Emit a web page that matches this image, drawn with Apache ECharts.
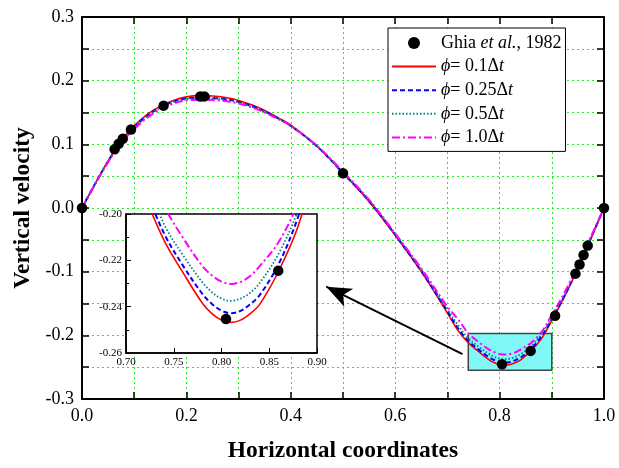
<!DOCTYPE html>
<html>
<head>
<meta charset="utf-8">
<script src="https://cdn.jsdelivr.net/npm/echarts@6/dist/echarts.min.js"></script>
<style>html,body{margin:0;padding:0;background:#fff;}#c{width:619px;height:468px;}</style>
</head>
<body>
<div id="c"></div>
<script>
// ---- data ----
const xs = [0, 0.025, 0.05, 0.075, 0.1, 0.125, 0.15, 0.175, 0.2, 0.225, 0.25, 0.275, 0.3, 0.325, 0.35, 0.375, 0.4, 0.45, 0.5, 0.55, 0.6, 0.65, 0.7, 0.72, 0.74, 0.76, 0.78, 0.79, 0.8, 0.81, 0.82, 0.83, 0.84, 0.86, 0.88, 0.9, 0.925, 0.95, 0.975, 1.0];
const phi01 = [0, 0.038, 0.074, 0.106, 0.129, 0.147, 0.160, 0.169, 0.1745, 0.1765, 0.176, 0.1735, 0.169, 0.162, 0.153, 0.142, 0.130, 0.097, 0.055, 0.010, -0.043, -0.100, -0.165, -0.192, -0.2115, -0.2255, -0.2385, -0.243, -0.2458, -0.2468, -0.2458, -0.243, -0.239, -0.2245, -0.2055, -0.177, -0.138, -0.095, -0.048, 0];
const phi025 = [0, 0.038, 0.073, 0.105, 0.127, 0.145, 0.158, 0.167, 0.172, 0.1735, 0.173, 0.171, 0.167, 0.160, 0.152, 0.141, 0.129, 0.097, 0.055, 0.011, -0.042, -0.099, -0.162, -0.1885, -0.2085, -0.2225, -0.2345, -0.2388, -0.2417, -0.2428, -0.2418, -0.239, -0.235, -0.2215, -0.2015, -0.1745, -0.137, -0.094, -0.047, 0];
const phi05 = [0, 0.038, 0.073, 0.104, 0.126, 0.144, 0.157, 0.166, 0.171, 0.1725, 0.172, 0.170, 0.166, 0.159, 0.151, 0.141, 0.129, 0.097, 0.056, 0.012, -0.041, -0.097, -0.159, -0.1835, -0.2045, -0.218, -0.2295, -0.2338, -0.2365, -0.2375, -0.2365, -0.234, -0.2298, -0.217, -0.1985, -0.172, -0.136, -0.093, -0.047, 0];
const phi10 = [0, 0.037, 0.072, 0.103, 0.124, 0.142, 0.155, 0.164, 0.169, 0.170, 0.1695, 0.168, 0.164, 0.158, 0.150, 0.140, 0.129, 0.098, 0.057, 0.013, -0.040, -0.095, -0.155, -0.1745, -0.1965, -0.2105, -0.2225, -0.2265, -0.2292, -0.2302, -0.2293, -0.2268, -0.2225, -0.212, -0.195, -0.168, -0.132, -0.090, -0.045, 0];
const ghiaX = [1.0, 0.9688, 0.9609, 0.9531, 0.9453, 0.9063, 0.8594, 0.8047, 0.5, 0.2344, 0.2266, 0.1563, 0.0938, 0.0781, 0.0703, 0.0625, 0.0];
const ghiaV = [0.0, -0.05906, -0.07391, -0.08864, -0.10313, -0.16914, -0.22445, -0.24533, 0.05454, 0.17527, 0.17507, 0.16077, 0.12317, 0.10890, 0.10091, 0.09233, 0.0];
const seriesNames = ['Ghia et al., 1982', 'phi = 0.1dt', 'phi = 0.25dt', 'phi = 0.5dt', 'phi = 1.0dt'];
const legendLabels = ['Ghia {i|et al.}, 1982', '{i|ϕ}= 0.1Δ{i|t}', '{i|ϕ}= 0.25Δ{i|t}', '{i|ϕ}= 0.5Δ{i|t}', '{i|ϕ}= 1.0Δ{i|t}'];
const zoomBox = [[0.74, -0.197], [0.90, -0.255]];
const arrowFrom = [0.729, -0.2295];
const arrowTo = [0.468, -0.1235];

// ---- build ----
const zip = (a, b) => a.map((v, i) => [v, b[i]]);
const ghia = zip(ghiaX, ghiaV);
const curves = [phi01, phi025, phi05, phi10].map(v => zip(xs, v));
const styles = [
  {color: '#ff0000', width: 1.6, type: 'solid'},
  {color: '#0000ff', width: 2, type: [5, 3]},
  {color: '#008080', width: 1.8, type: [1.5, 2]},
  {color: '#ff00ff', width: 2, type: [8, 3, 2, 3]}
];
const FONT = 'Liberation Serif';
const green = '#22ee22';
const legendMap = {};
seriesNames.forEach((n, i) => legendMap[n] = legendLabels[i]);

const series = [];
function addSet(xi, yi, main) {
  curves.forEach((d, k) => {
    const s = {
      name: seriesNames[k + 1], type: 'line', xAxisIndex: xi, yAxisIndex: yi,
      data: d, showSymbol: false, symbol: 'none', smooth: 0.35, clip: true,
      lineStyle: styles[k], itemStyle: {color: styles[k].color}, z: main ? 3 : 5
    };
    if (main && k === 0) {
      s.markArea = {
        silent: true,
        itemStyle: {color: '#80f8f8', borderColor: '#444', borderWidth: 1.5},
        data: [[{coord: zoomBox[0]}, {coord: zoomBox[1]}]]
      };
      s.markLine = {
        silent: true, label: {show: false},
        lineStyle: {color: '#000', width: 2, type: 'solid'},
        symbol: ['none', 'arrow'], symbolSize: [15, 25],
        data: [[{coord: arrowFrom}, {coord: arrowTo}]]
      };
    }
    series.push(s);
  });
  series.push({
    name: seriesNames[0], type: 'scatter', xAxisIndex: xi, yAxisIndex: yi,
    data: ghia, symbol: 'circle', symbolSize: 10.5, clip: true,
    itemStyle: {color: '#000', opacity: 1}, z: main ? 6 : 7
  });
}
addSet(0, 0, true);
addSet(2, 2, false);

const tickStyle = {color: '#000', width: 1.5};
const gridLine = {show: true, lineStyle: {color: green, type: [2, 3], width: 1}};
const mainX = {
  type: 'value', gridIndex: 0, min: 0, max: 1, interval: 0.2, position: 'bottom',
  axisLine: {onZero: false, lineStyle: {color: '#000', width: 2}},
  axisTick: {inside: true, length: 7, lineStyle: tickStyle},
  minorTick: {show: true, splitNumber: 2, length: 7, lineStyle: tickStyle},
  axisLabel: {color: '#000', fontFamily: FONT, fontSize: 18, margin: 8, formatter: v => v.toFixed(1)},
  splitLine: gridLine, minorSplitLine: gridLine,
  name: 'Horizontal coordinates', nameLocation: 'middle', nameGap: 40,
  nameTextStyle: {color: '#000', fontFamily: FONT, fontSize: 23.5, fontWeight: 'bold'}
};
const mainY = {
  type: 'value', gridIndex: 0, min: -0.3, max: 0.3, interval: 0.1, position: 'left',
  axisLine: {onZero: false, lineStyle: {color: '#000', width: 2}},
  axisTick: {inside: true, length: 7, lineStyle: tickStyle},
  minorTick: {show: true, splitNumber: 2, length: 7, lineStyle: tickStyle},
  axisLabel: {color: '#000', fontFamily: FONT, fontSize: 18, margin: 8, formatter: v => v.toFixed(1)},
  splitLine: gridLine, minorSplitLine: gridLine,
  name: 'Vertical velocity', nameLocation: 'middle', nameGap: 47,
  nameTextStyle: {color: '#000', fontFamily: FONT, fontSize: 23.5, fontWeight: 'bold'}
};
const frameX = {
  type: 'value', gridIndex: 0, min: 0, max: 1, interval: 0.2, position: 'top',
  axisLine: {onZero: false, lineStyle: {color: '#000', width: 2}},
  axisTick: {inside: true, length: 7, lineStyle: tickStyle},
  minorTick: {show: true, splitNumber: 2, length: 7, lineStyle: tickStyle},
  axisLabel: {show: false}, splitLine: {show: false}
};
const frameY = {
  type: 'value', gridIndex: 0, min: -0.3, max: 0.3, interval: 0.1, position: 'right',
  axisLine: {onZero: false, lineStyle: {color: '#000', width: 2}},
  axisTick: {inside: true, length: 7, lineStyle: tickStyle},
  minorTick: {show: true, splitNumber: 2, length: 7, lineStyle: tickStyle},
  axisLabel: {show: false}, splitLine: {show: false}
};
const insetX = {
  type: 'value', gridIndex: 1, min: 0.7, max: 0.9, interval: 0.05, position: 'bottom', z: 4,
  axisLine: {onZero: false, lineStyle: {color: '#000', width: 1.5}},
  axisTick: {inside: true, length: 5, lineStyle: {color: '#000', width: 1}},
  axisLabel: {color: '#000', fontFamily: FONT, fontSize: 11, margin: 4, formatter: v => v.toFixed(2)},
  splitLine: {show: false}
};
const insetY = {
  type: 'value', gridIndex: 1, min: -0.26, max: -0.20, interval: 0.02, position: 'left', z: 4,
  axisLine: {onZero: false, lineStyle: {color: '#000', width: 1.5}},
  axisTick: {inside: true, length: 5, lineStyle: {color: '#000', width: 1}},
  minorTick: {show: true, splitNumber: 2, length: 3, lineStyle: {color: '#000', width: 1}},
  axisLabel: {color: '#000', fontFamily: FONT, fontSize: 11, margin: 4, formatter: v => v.toFixed(2)},
  splitLine: {show: false}
};

const chart = echarts.init(document.getElementById('c'), null, {renderer: 'canvas'});
chart.setOption({
  animation: false,
  backgroundColor: '#fff',
  grid: [
    {left: 82, right: 15, top: 17, bottom: 68, containLabel: false},
    {left: 126, top: 214, width: 191, height: 139, show: true, z: 1,
     backgroundColor: '#fff', borderColor: '#000', borderWidth: 1.5}
  ],
  xAxis: [mainX, frameX, insetX],
  yAxis: [mainY, frameY, insetY],
  legend: {
    left: 388, top: 28, orient: 'vertical',
    data: seriesNames.map((n, i) => i === 0 ? {name: n, itemStyle: {color: '#000'}} : {name: n}),
    itemStyle: {color: 'rgba(0,0,0,0)', borderWidth: 0},
    backgroundColor: '#fff', borderColor: '#000', borderWidth: 1,
    padding: [6, 4, 5, 3], itemGap: 5.6, itemWidth: 44, itemHeight: 12,
    formatter: n => legendMap[n],
    textStyle: {color: '#000', fontFamily: FONT, fontSize: 18, lineHeight: 18,
      rich: {i: {fontFamily: FONT, fontSize: 18, fontStyle: 'italic', color: '#000'}}},
    selectedMode: false, z: 10
  },
  series: series
});
</script>
</body>
</html>
